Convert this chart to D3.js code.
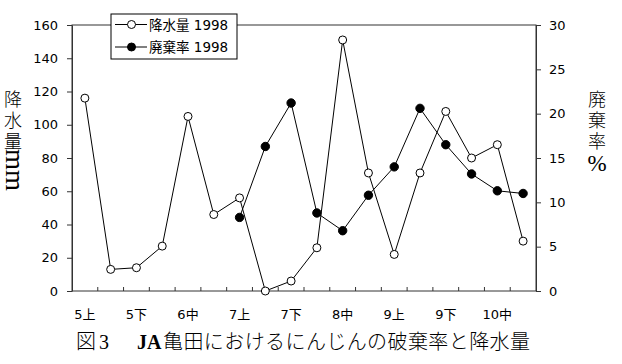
<!DOCTYPE html>
<html>
<head>
<meta charset="utf-8">
<script src="https://cdn.jsdelivr.net/npm/d3@7/dist/d3.min.js"></script>
<style>
  html, body { margin: 0; padding: 0; background: #fff; }
  svg { display: block; }
</style>
</head>
<body>
<svg id="chart" width="622" height="364"></svg>
<script>
// ---- data ----
const categories = ["5上","5中","5下","6上","6中","6下","7上","7中","7下","8上","8中","8下","9上","9中","9下","10上","10中","10下"];
const tickLabels = ["5上","5下","6中","7上","7下","8中","9上","9下","10中"];
const rainfall = [116, 13, 14, 27, 105, 46, 56, 0, 6, 26, 151, 71, 22, 71, 108, 80, 88, 30];
const disposalRate = [null, null, null, null, null, null, 8.3, 16.3, 21.2, 8.8, 6.8, 10.8, 14.0, 20.6, 16.5, 13.2, 11.3, 11.0];
const leftTicks = [0, 20, 40, 60, 80, 100, 120, 140, 160];
const rightTicks = [0, 5, 10, 15, 20, 25, 30];
const seriesNames = ["降水量 1998", "廃棄率 1998"];

// ---- layout ----
const svg = d3.select("#chart");
const L = 72, R = 536, T = 25, B = 291;
const axisColor = "#333";
const numFont = "'DejaVu Sans', 'Noto Sans CJK JP', sans-serif";
const cjk = "'Noto Sans CJK JP', sans-serif";
const serif = "'Liberation Serif', serif";

const x = d3.scaleBand().domain(categories).range([L, R]).padding(0);
const cx = c => x(c) + x.bandwidth() / 2;
const yL = d3.scaleLinear().domain([0, 160]).range([B, T]);
const yR = d3.scaleLinear().domain([0, 30]).range([B, T]);

// frame
svg.append("rect").attr("x", L).attr("y", T).attr("width", R - L).attr("height", B - T)
  .attr("fill", "none").attr("stroke", axisColor).attr("stroke-width", 1);

// left axis
const gL = svg.append("g").attr("transform", `translate(${L},0)`)
  .call(d3.axisLeft(yL).tickValues(leftTicks).tickSize(5).tickPadding(9).tickSizeOuter(0));
// right axis
const gR = svg.append("g").attr("transform", `translate(${R},0)`)
  .call(d3.axisRight(yR).tickValues(rightTicks).tickSize(5).tickPadding(8).tickSizeOuter(0));
[gL, gR].forEach(g => {
  g.select(".domain").attr("stroke", axisColor);
  g.selectAll(".tick line").attr("stroke", axisColor);
  g.selectAll(".tick text").attr("fill", "#000").style("font-family", numFont).style("font-size", "13px");
});

// x-axis inward ticks at band boundaries
const boundaries = categories.slice(1);
svg.append("g").selectAll("line").data(boundaries).join("line")
  .attr("x1", d => x(d)).attr("x2", d => x(d))
  .attr("y1", B).attr("y2", B - 4)
  .attr("stroke", axisColor);

// x labels
svg.append("g").selectAll("text").data(tickLabels).join("text")
  .attr("x", d => cx(d)).attr("y", 319)
  .attr("text-anchor", "middle")
  .style("font-family", numFont).style("font-size", "13px")
  .text(d => d);

// series lines
const rainLine = d3.line().x((d, i) => cx(categories[i])).y(d => yL(d));
const rateLine = d3.line().defined(d => d != null).x((d, i) => cx(categories[i])).y(d => yR(d));

svg.append("path").datum(rainfall).attr("d", rainLine)
  .attr("fill", "none").attr("stroke", "#000").attr("stroke-width", 1);
svg.append("path").datum(disposalRate).attr("d", rateLine)
  .attr("fill", "none").attr("stroke", "#000").attr("stroke-width", 1);

svg.append("g").selectAll("circle").data(rainfall).join("circle")
  .attr("cx", (d, i) => cx(categories[i])).attr("cy", d => yL(d)).attr("r", 4)
  .attr("fill", "#fff").attr("stroke", "#000").attr("stroke-width", 1);
svg.append("g").selectAll("circle").data(disposalRate.map((v, i) => ({v, i})).filter(d => d.v != null)).join("circle")
  .attr("cx", d => cx(categories[d.i])).attr("cy", d => yR(d.v)).attr("r", 4.2)
  .attr("fill", "#000").attr("stroke", "#000");

// legend
const lg = svg.append("g");
lg.append("rect").attr("x", 111).attr("y", 14).attr("width", 126).attr("height", 45)
  .attr("fill", "#fff").attr("stroke", "#000").attr("stroke-width", 1);
seriesNames.forEach((name, i) => {
  const yy = 24.5 + i * 22.5;
  lg.append("line").attr("x1", 115).attr("x2", 147).attr("y1", yy).attr("y2", yy).attr("stroke", "#000");
  lg.append("circle").attr("cx", 131.5).attr("cy", yy).attr("r", 4)
    .attr("fill", i === 0 ? "#fff" : "#000").attr("stroke", "#000");
  lg.append("text").attr("x", 149).attr("y", yy + 5)
    .style("font-family", numFont).style("font-size", "13.5px").text(name);
});

// axis titles (vertical writing)
svg.append("text").attr("x", 13).attr("y", 90)
  .style("writing-mode", "vertical-rl").style("letter-spacing", "3px")
  .style("font-family", cjk).style("font-size", "18px").style("font-weight", 300)
  .text("降水量");
svg.append("text").attr("x", 6).attr("y", 170).attr("text-anchor", "middle")
  .attr("transform", "rotate(90,6,170)")
  .attr("dy", "0")
  .style("font-family", serif).style("font-size", "27px").text("mm");

svg.append("text").attr("x", 597).attr("y", 90)
  .style("writing-mode", "vertical-rl").style("letter-spacing", "3px")
  .style("font-family", cjk).style("font-size", "18px").style("font-weight", 300)
  .text("廃棄率");
svg.append("text").attr("x", 597).attr("y", 171).attr("text-anchor", "middle")
  .style("font-family", serif).style("font-size", "23px").text("%");

// caption
const cap = svg.append("text").attr("y", 349).style("font-size", "20px");
cap.append("tspan").attr("x", 76).style("font-family", cjk).style("font-weight", 300).text("図");
cap.append("tspan").attr("x", 99).style("font-family", serif).text("3");
cap.append("tspan").attr("x", 137).style("font-family", serif).style("font-weight", "bold").text("JA");
cap.append("tspan").attr("x", 163).style("font-family", cjk).style("font-weight", 300)
  .attr("textLength", 367).attr("lengthAdjust", "spacing").text("亀田におけるにんじんの破棄率と降水量");
</script>
</body>
</html>
